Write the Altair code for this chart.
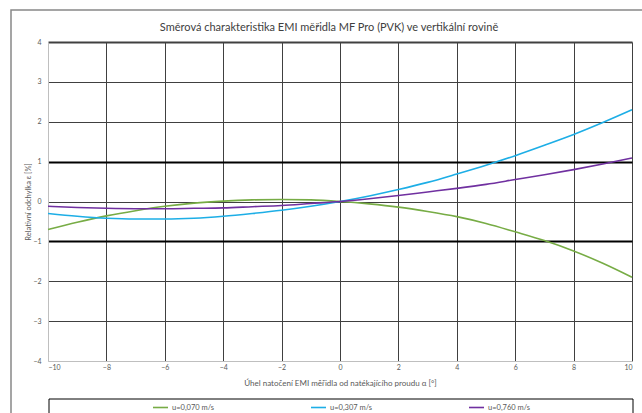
import altair as alt
import pandas as pd

angles = [-10, -9, -8, -7, -6, -5, -4, -3, -2, -1, 0, 1, 2, 3, 4, 5, 6, 7, 8, 9, 10]
u_070 = [-0.70, -0.52, -0.36, -0.23, -0.12, -0.04, 0.01, 0.04, 0.05, 0.04, 0.0,
         -0.06, -0.14, -0.25, -0.38, -0.55, -0.76, -0.98, -1.24, -1.55, -1.90]
u_307 = [-0.30, -0.37, -0.42, -0.44, -0.44, -0.42, -0.37, -0.30, -0.22, -0.12, 0.0,
         0.14, 0.30, 0.48, 0.69, 0.91, 1.15, 1.41, 1.68, 1.98, 2.30]
u_760 = [-0.12, -0.15, -0.17, -0.18, -0.18, -0.17, -0.16, -0.13, -0.10, -0.05, 0.0,
         0.07, 0.15, 0.24, 0.33, 0.43, 0.55, 0.67, 0.80, 0.94, 1.09]
series_names = ["u=0,070 m/s", "u=0,307 m/s", "u=0,760 m/s"]
series_colors = ["#77AC45", "#1DAEE6", "#7030A0"]
x_ticks = [-10, -8, -6, -4, -2, 0, 2, 4, 6, 8, 10]
y_ticks = [-4, -3, -2, -1, 0, 1, 2, 3, 4]

rows = []
for name, vals in zip(series_names, [u_070, u_307, u_760]):
    for a, v in zip(angles, vals):
        rows.append({"alpha": a, "eps": v, "serie": name})
df = pd.DataFrame(rows)

FONT = "Lato"
LABEL = "#595959"

lines = alt.Chart(df).mark_line(strokeWidth=1.6, interpolate="monotone").encode(
    x=alt.X("alpha:Q",
            scale=alt.Scale(domain=[-10, 10], nice=False),
            axis=alt.Axis(values=x_ticks, title="Úhel natočení EMI měřidla od natékajícího proudu α [°]",
                          grid=True, gridColor="#404040", gridWidth=1,
                          gridOpacity=alt.condition("datum.value == -10", alt.value(0), alt.value(1)),
                          ticks=False, domain=True, domainColor="#BFBFBF",
                          labelFont=FONT, labelFontSize=7, labelColor=LABEL, labelPadding=2,
                          titleFont=FONT, titleFontSize=8, titleColor=LABEL, titleFontWeight="normal",
                          titlePadding=9)),
    y=alt.Y("eps:Q",
            scale=alt.Scale(domain=[-4, 4], nice=False),
            axis=alt.Axis(values=y_ticks, title="Relativní odchylka ε [%]",
                          grid=True,
                          gridColor=alt.condition("abs(datum.value) == 1", alt.value("#000000"), alt.value("#404040")),
                          gridWidth=alt.condition("abs(datum.value) == 1 || datum.value == 4", alt.value(2), alt.value(1)),
                          gridOpacity=alt.condition("datum.value == -4", alt.value(0), alt.value(1)),
                          ticks=False, domain=True, domainColor="#BFBFBF",
                          labelFont=FONT, labelFontSize=7, labelColor=LABEL, labelPadding=7,
                          titleFont=FONT, titleFontSize=7.5, titleColor=LABEL, titleFontWeight="normal",
                          titlePadding=0)),
    color=alt.Color("serie:N",
                    scale=alt.Scale(domain=series_names, range=series_colors),
                    legend=alt.Legend(title=None, orient="none", direction="horizontal",
                                      legendX=104, legendY=357, columns=3, columnPadding=92,
                                      symbolType="stroke", symbolSize=225, symbolStrokeWidth=1.6,
                                      labelFont=FONT, labelFontSize=7.5, labelColor=LABEL,
                                      labelOffset=3)),
)

one = pd.DataFrame({"k": [0]})
legend_box = alt.Chart(one).mark_rect(fill="white", stroke="#000000", strokeWidth=1).encode(
    x=alt.value(1), x2=alt.value(585), y=alt.value(357), y2=alt.value(430))
frame = alt.Chart(one).mark_rect(fill=None, stroke="#888888", strokeWidth=1.5).encode(
    x=alt.value(-37), x2=alt.value(640), y=alt.value(-32), y2=alt.value(420))

chart = alt.layer(frame, legend_box, lines).properties(
    width=584, height=319,
    title=alt.TitleParams("Směrová charakteristika EMI měřidla MF Pro (PVK) ve vertikální rovině",
                          font=FONT, fontSize=11, fontWeight="normal", color="#404040",
                          anchor="middle", dx=-11, dy=33, offset=9),
    padding={"left": 48, "top": 42, "right": 10, "bottom": 52},
    autosize=alt.AutoSizeParams(type="none"),
).configure_view(stroke=None).configure(background="white")

chart.save("out.html", embed_options={"renderer": "svg", "actions": False})
